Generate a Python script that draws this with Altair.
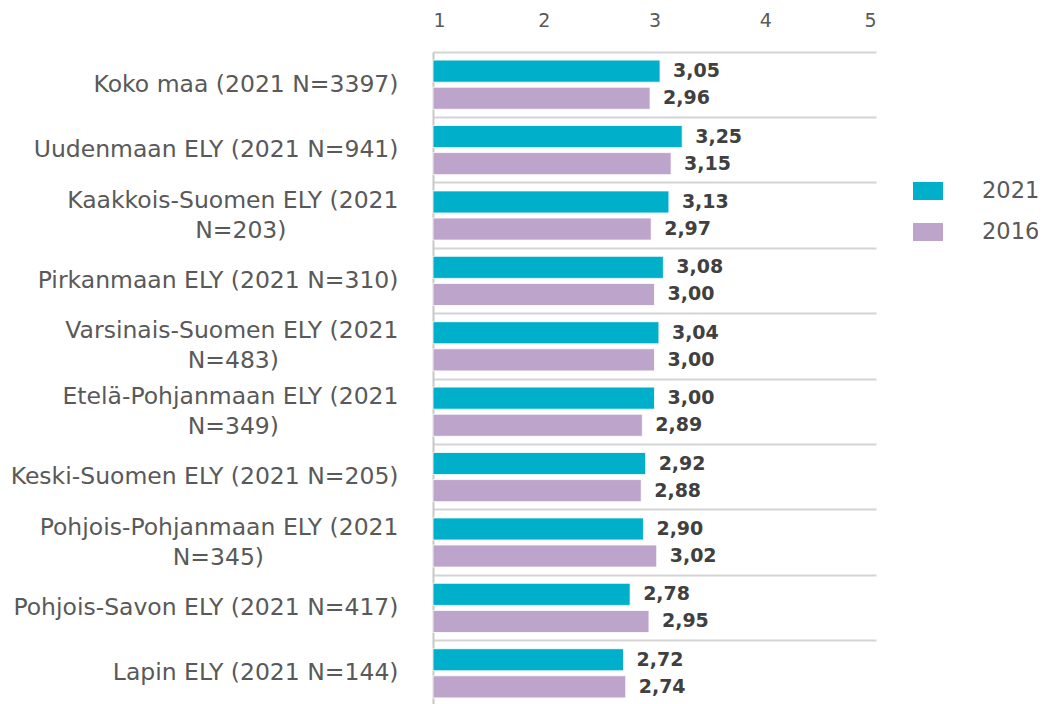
import altair as alt
import pandas as pd

categories = [
    "Koko maa (2021 N=3397)",
    "Uudenmaan ELY (2021 N=941)",
    "Kaakkois-Suomen ELY (2021\nN=203)",
    "Pirkanmaan ELY (2021 N=310)",
    "Varsinais-Suomen ELY (2021\nN=483)",
    "Etelä-Pohjanmaan ELY (2021\nN=349)",
    "Keski-Suomen ELY (2021 N=205)",
    "Pohjois-Pohjanmaan ELY (2021\nN=345)",
    "Pohjois-Savon ELY (2021 N=417)",
    "Lapin ELY (2021 N=144)",
]
years = ["2021", "2016"]
values_2021 = [3.05, 3.25, 3.13, 3.08, 3.04, 3.00, 2.92, 2.90, 2.78, 2.72]
values_2016 = [2.96, 3.15, 2.97, 3.00, 3.00, 2.89, 2.88, 3.02, 2.95, 2.74]
x_ticks = [1, 2, 3, 4, 5]
colors = ["#00B0CB", "#BCA4CB"]

rows = []
for c, a, b in zip(categories, values_2021, values_2016):
    rows.append({"cat": c, "year": "2021", "value": a})
    rows.append({"cat": c, "year": "2016", "value": b})
df = pd.DataFrame(rows)

FONT = "DejaVu Sans"
multi = "indexof(datum.value, '\\n') >= 0"

# two-line labels: second line centred under the first (padded with no-break
# spaces, followed by a zero-width space so the padding is not trimmed)
L1 = "split(datum.label, '\\n')[0]"
L2 = "split(datum.label, '\\n')[1]"
label_expr = (
    f"indexof(datum.label, '\\n') >= 0 ? "
    f"[{L1}, pad({L2}, length({L2}) + round((length({L1}) - length({L2})) * 0.8), '\u00a0', 'right') + '\u200b']"
    f" : datum.label"
)

y_enc = alt.Y(
    "cat:N",
    sort=categories,
    title=None,
    scale=alt.Scale(paddingInner=0, paddingOuter=0),
    axis=alt.Axis(
        labelExpr=label_expr,
        labelFont=FONT,
        labelFontSize=23.5,
        labelColor="#595959",
        labelLineHeight=30,
        labelLimit=600,
        labelAlign="right",
        labelPadding=35,
        labelOffset={"condition": {"test": multi, "value": -15}, "value": 0},
        ticks=False,
        domain=True,
        domainColor="#c8c8c8",
        domainWidth=2,
        grid=True,
        gridColor="#d4d4d4",
        gridWidth=2,
        bandPosition=0,
    ),
)

yoff = alt.YOffset(
    "year:N",
    sort=years,
    scale=alt.Scale(paddingInner=0.185, paddingOuter=0.3),
)

x_enc = alt.X(
    "value:Q",
    title=None,
    scale=alt.Scale(domain=[1, 5], nice=False, zero=False),
    axis=alt.Axis(
        orient="top",
        values=x_ticks,
        grid=False,
        domain=False,
        ticks=False,
        labelFont=FONT,
        labelFontSize=19,
        labelColor="#595959",
        labelPadding=22,
        format="d",
    ),
)

bars = alt.Chart(df).mark_bar(stroke="white", strokeWidth=0.8).encode(
    y=y_enc,
    yOffset=yoff,
    x=x_enc,
    x2=alt.datum(1),
    color=alt.Color(
        "year:N",
        sort=years,
        scale=alt.Scale(domain=years, range=colors),
        legend=alt.Legend(
            title=None,
            orient="none",
            legendX=480,
            legendY=124,
            symbolType="M-1,-0.6H1V0.6H-1Z",
            symbolSize=900,
            symbolStrokeWidth=0,
            symbolOpacity=1,
            labelFont=FONT,
            labelFontSize=22.5,
            labelColor="#595959",
            labelOffset=39,
            rowPadding=14,
            padding=0,
        ),
    ),
)

labels = alt.Chart(df).transform_calculate(
    lab="replace(format(datum.value, '.2f'), '.', ',')"
).mark_text(
    align="left", baseline="middle", dx=13, font=FONT, fontSize=19,
    fontWeight="bold", color="#404040"
).encode(
    y=alt.Y("cat:N", sort=categories),
    yOffset=yoff,
    x=alt.X("value:Q"),
    text="lab:N",
)

chart = alt.layer(bars, labels).properties(
    width=443,
    height=654,
    padding={"left": 425, "top": 44, "right": 162, "bottom": 0},
    autosize=alt.AutoSizeParams(type="none"),
).configure(background="white").configure_view(stroke=None)

chart.save("out.html", embed_options={"renderer": "svg", "actions": False})
